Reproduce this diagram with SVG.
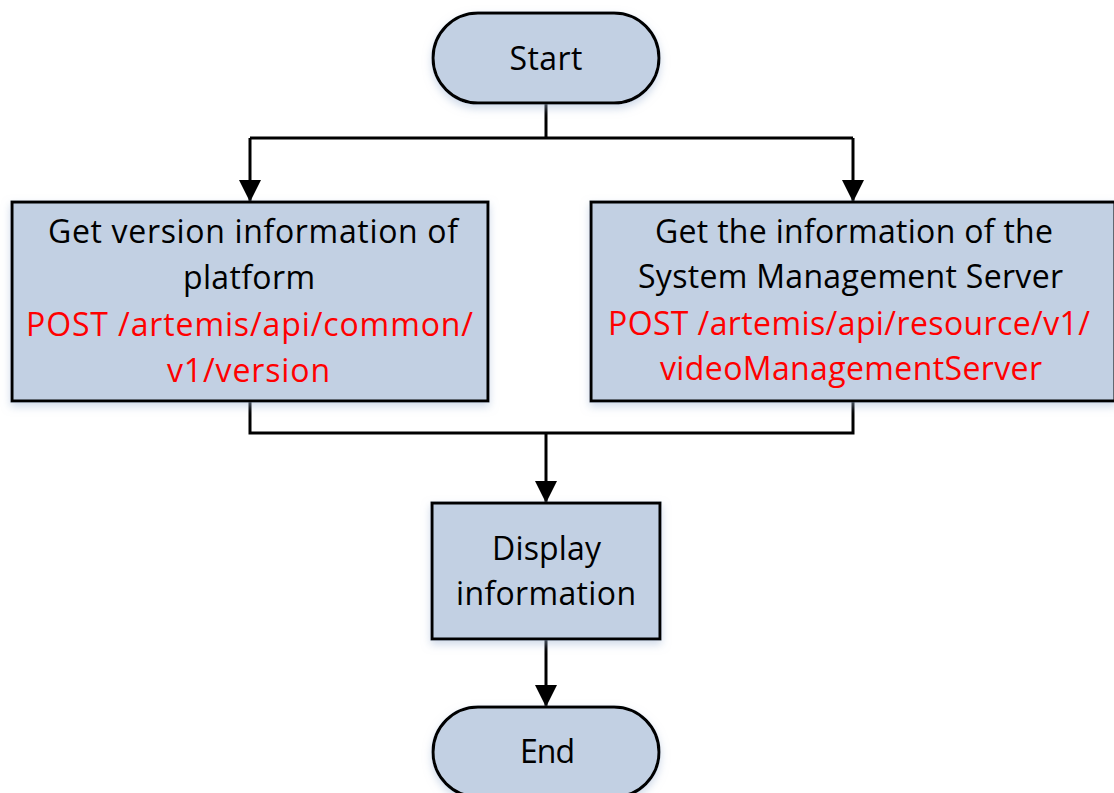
<svg xmlns="http://www.w3.org/2000/svg" width="1114" height="793" viewBox="0 0 1114 793">
<style>
.shape{fill:#C2D0E3;stroke:#000;stroke-width:3;filter:url(#sh)}
.t{font-family:"Open Sans","Noto Sans",sans-serif;font-size:32px;fill:#000;text-anchor:middle}
.r{fill:#FF0000}
.c{fill:none;stroke:#000;stroke-width:3}
</style>
<defs>
<filter id="sh" x="-10%" y="-10%" width="120%" height="130%">
<feDropShadow dx="0" dy="4" stdDeviation="4" flood-color="#9FB4D3" flood-opacity="0.5"/>
</filter>
<marker id="arr" markerUnits="userSpaceOnUse" markerWidth="22" markerHeight="22" refX="22" refY="11" orient="auto">
<path d="M0,0 L22,11 L0,22 z" fill="#000"/>
</marker>
</defs>
<rect width="1114" height="793" fill="#fff"/>
<g id="connectors">
<path class="c" d="M546,103 V138"/>
<path class="c" d="M250,138 H853"/>
<path class="c" d="M250,138 V202" marker-end="url(#arr)"/>
<path class="c" d="M853,138 V202" marker-end="url(#arr)"/>
<path class="c" d="M250,401 V433 H853 V401"/>
<path class="c" d="M546,433 V503" marker-end="url(#arr)"/>
<path class="c" d="M546,639 V707" marker-end="url(#arr)"/>
</g>
<g id="start">
<rect class="shape" x="433" y="13" width="226" height="90" rx="45" ry="45"/>
<text class="t" x="546" y="70" textLength="73">Start</text>
</g>
<g id="get-version">
<rect class="shape" x="12" y="202" width="476" height="199"/>
<text class="t" x="253" y="243" textLength="410">Get version information of</text>
<text class="t" x="249" y="289" textLength="132">platform</text>
<text class="t r" x="249.5" y="336" textLength="447">POST /artemis/api/common/</text>
<text class="t r" x="248.5" y="382" textLength="163">v1/version</text>
</g>
<g id="get-server">
<rect class="shape" x="591" y="202" width="524" height="199"/>
<text class="t" x="854" y="243" textLength="398">Get the information of the</text>
<text class="t" x="850.5" y="288" textLength="425">System Management Server</text>
<text class="t r" x="849" y="335" textLength="482">POST /artemis/api/resource/v1/</text>
<text class="t r" x="851" y="380" textLength="382">videoManagementServer</text>
</g>
<g id="display">
<rect class="shape" x="432" y="503" width="228" height="136"/>
<text class="t" x="546.5" y="560" textLength="109">Display</text>
<text class="t" x="546" y="605" textLength="180">information</text>
</g>
<g id="end">
<rect class="shape" x="433" y="707" width="226" height="90" rx="45" ry="45"/>
<text class="t" x="547.5" y="763" textLength="55">End</text>
</g>
</svg>
